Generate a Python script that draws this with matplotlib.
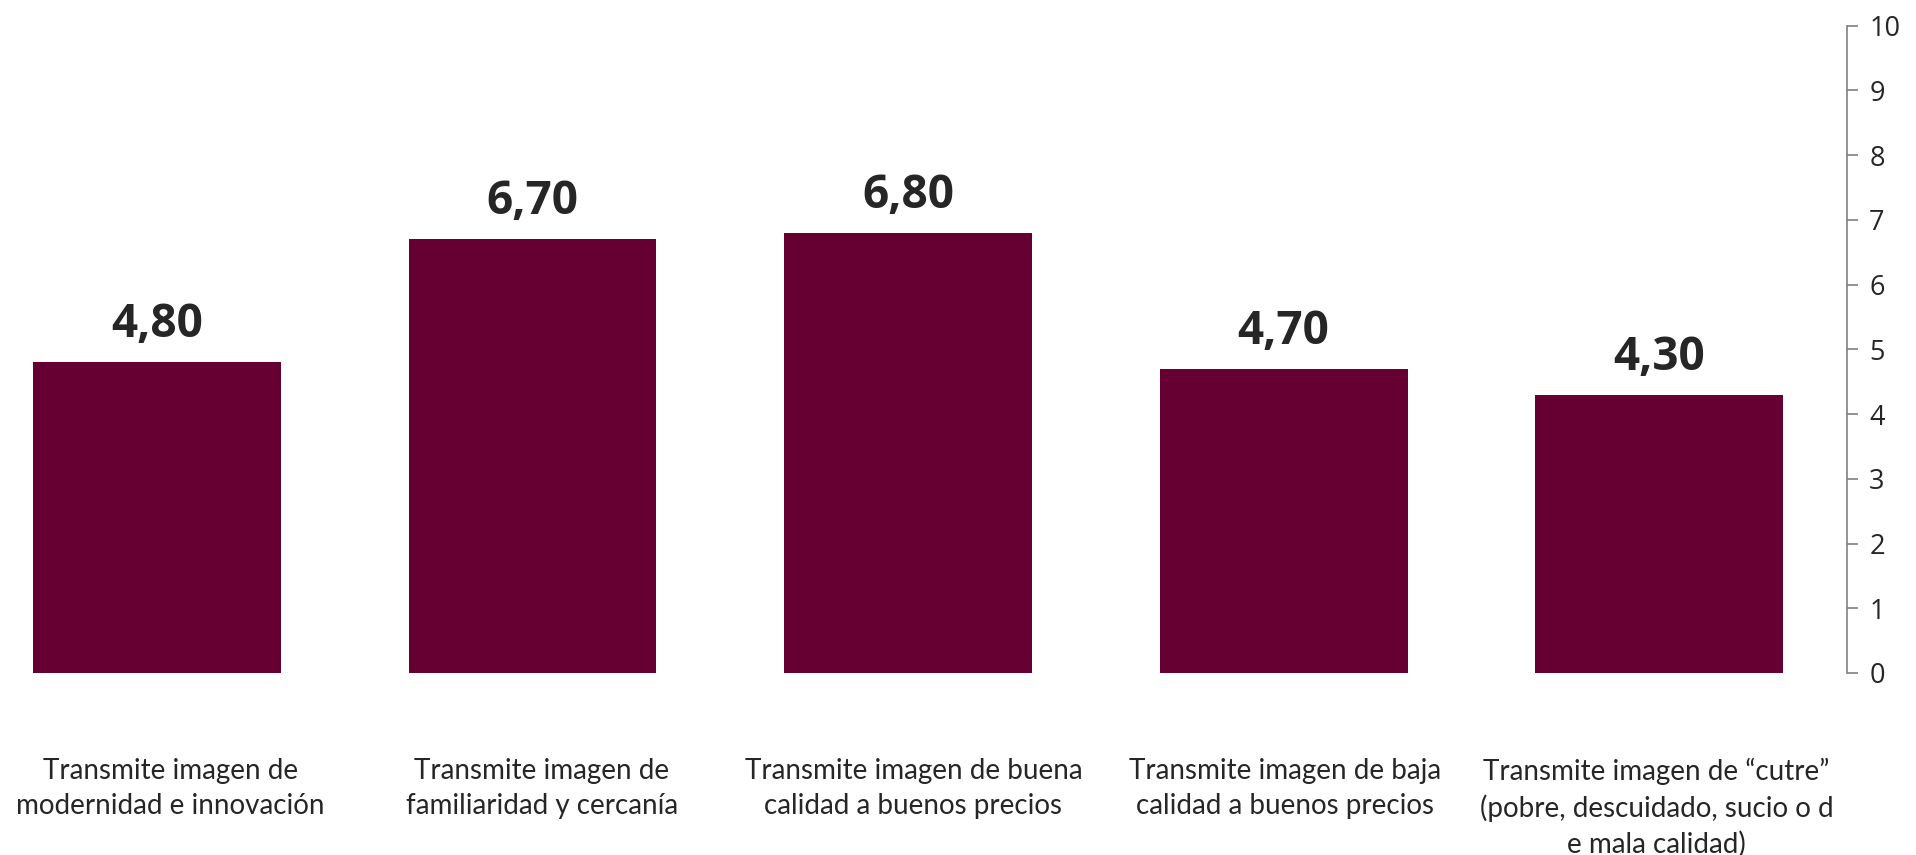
import matplotlib
matplotlib.use("Agg")
import matplotlib.pyplot as plt

categories = [
    "Transmite imagen de\nmodernidad e innovación",
    "Transmite imagen de\nfamiliaridad y cercanía",
    "Transmite imagen de buena\ncalidad a buenos precios",
    "Transmite imagen de baja\ncalidad a buenos precios",
    "Transmite imagen de \u201ccutre\u201d\n(pobre, descuidado, sucio o d\ne mala calidad)",
]
values = [4.80, 6.70, 6.80, 4.70, 4.30]
y_ticks = [0, 1, 2, 3, 4, 5, 6, 7, 8, 9, 10]

bar_color = "#660033"
text_color = "#262626"
axis_color = "#808080"

fig = plt.figure(figsize=(19.16, 8.55), dpi=100)
ax = fig.add_axes([0.0, 0.2129, 0.964, 0.7571])

x = list(range(len(values)))
ax.bar(x, values, width=0.66, color=bar_color, edgecolor="none")

ax.set_xlim(-0.418, 4.5)
ax.set_ylim(0, 10)

for spine in ("top", "left", "bottom"):
    ax.spines[spine].set_visible(False)
ax.spines["right"].set_color(axis_color)
ax.spines["right"].set_linewidth(1.2)

ax.yaxis.tick_right()
ax.set_yticks(y_ticks)
ax.set_yticklabels([str(t) for t in y_ticks], fontfamily="Open Sans",
                   fontsize=19.5, color=text_color)
ax.tick_params(axis="y", direction="out", length=8, width=1.2,
               color=axis_color, pad=8)
ax.set_xticks([])

for xi, v in zip(x, values):
    ax.annotate(f"{v:.2f}".replace(".", ","), xy=(xi, v), xytext=(0, 18),
                textcoords="offset points", ha="center", va="baseline",
                fontfamily="Open Sans", fontweight="bold", fontsize=33,
                color=text_color)

# category text sits on a slightly tighter pitch than the bars
for xi, label in zip(x, categories):
    dx = 9.6 - 2.9 * xi
    ax.annotate(label, xy=(xi, 0), xycoords="data", xytext=(dx, -61),
                textcoords="offset points", ha="center", va="top",
                fontfamily="Lato", fontsize=20.0, color=text_color,
                linespacing=1.42, multialignment="center")

fig.savefig("out.png", dpi=100, facecolor="white")
